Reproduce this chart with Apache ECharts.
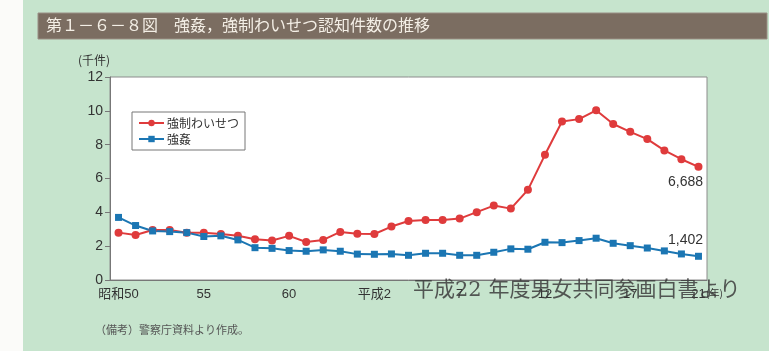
<!DOCTYPE html>
<html>
<head>
<meta charset="utf-8">
<script src="https://cdn.jsdelivr.net/npm/echarts@6/dist/echarts.min.js"></script>
<style>
html,body{margin:0;padding:0;background:#fff;}
#chart{width:769px;height:351px;}
</style>
</head>
<body>
<div id="chart"></div>
<script>
// categories: 昭和50 (1975) ... 平成21 (2009)
const categories = ['昭和50','昭和51','昭和52','昭和53','昭和54','昭和55','昭和56','昭和57','昭和58','昭和59',
  '昭和60','昭和61','昭和62','昭和63','平成元','平成2','平成3','平成4','平成5','平成6',
  '平成7','平成8','平成9','平成10','平成11','平成12','平成13','平成14','平成15','平成16',
  '平成17','平成18','平成19','平成20','平成21'];
const tickLabels = ['昭和50','','','','','55','','','','',
  '60','','','','','平成2','','','','',
  '7','','','','','12','','','','',
  '17','','','','21'];
// thousand cases
const indecentAssault = [2.80,2.66,2.96,2.96,2.80,2.80,2.72,2.62,2.41,2.33,
  2.61,2.25,2.37,2.84,2.74,2.72,3.16,3.49,3.55,3.55,
  3.63,4.01,4.40,4.22,5.33,7.40,9.37,9.51,10.03,9.22,
  8.76,8.33,7.66,7.14,6.688];
const rape = [3.70,3.22,2.90,2.86,2.80,2.57,2.61,2.37,1.91,1.87,
  1.74,1.70,1.78,1.70,1.53,1.52,1.54,1.46,1.58,1.58,
  1.46,1.46,1.64,1.84,1.82,2.23,2.21,2.33,2.47,2.17,
  2.03,1.89,1.72,1.54,1.402];
const seriesNames = ['強制わいせつ','強姦'];
const yTicks = {min:0, max:12, interval:2};
const lastLabels = ['6,688','1,402'];

const chart = echarts.init(document.getElementById('chart'), null, {renderer:'canvas'});
const n = categories.length;
const option = {
  backgroundColor: '#c6e4cd',
  animation: false,
  graphic: [
    {type:'rect', shape:{x:0,y:0,width:23,height:351}, style:{fill:'#fbfbf9'}, silent:true},
    {type:'rect', shape:{x:38,y:13,width:729,height:26}, style:{fill:'#7b6d61', stroke:'#9a8f85', lineWidth:1}, silent:true},
    {type:'text', left:46, top:17, style:{text:'第１－６－８図　強姦，強制わいせつ認知件数の推移', fill:'#f4efe6', font:'16px "Noto Sans CJK JP"'}},
    {type:'text', left:78, top:54, style:{text:'(千件)', fill:'#333', font:'12px "Noto Sans CJK JP"'}},
    {type:'text', left:706, top:288, style:{text:'(年)', fill:'#333', font:'10px "Noto Sans CJK JP"'}},
    {type:'text', left:95, top:324, style:{text:'（備考）警察庁資料より作成。', fill:'#555', font:'11px "Noto Sans CJK JP"'}},
    {type:'text', left:413, top:280, z:100, style:{text:'平成22 年度男女共同参画白書より', fill:'rgba(60,60,60,0.85)', font:'21px "DejaVu Serif", "Noto Sans CJK JP"'}}
  ],
  legend: {
    orient:'vertical', left:132, top:112,
    backgroundColor:'#fff', borderColor:'#777', borderWidth:1,
    padding:[5,6,5,6], itemGap:4, itemWidth:25, itemHeight:8,
    textStyle:{fontSize:12, color:'#333', fontFamily:'"Noto Sans CJK JP"', padding:[0,0,0,-2]},
    data: seriesNames
  },
  grid: {left:110, right:62, top:77, bottom:71, show:true, backgroundColor:'#fff', borderColor:'#8c8c8c', borderWidth:1},
  xAxis: {
    type:'category', data:categories, boundaryGap:true,
    axisLine:{lineStyle:{color:'#777', width:1}},
    axisTick:{inside:true, length:4, alignWithLabel:true, interval:0, lineStyle:{color:'#777'}},
    axisLabel:{interval:0, color:'#333', fontSize:13, margin:8,
      fontFamily:'"Liberation Sans", "Noto Sans CJK JP"',
      formatter:(v, i) => tickLabels[i]}
  },
  yAxis: {
    type:'value', min:yTicks.min, max:yTicks.max, interval:yTicks.interval,
    splitLine:{show:false},
    axisLine:{show:true, lineStyle:{color:'#777'}},
    axisTick:{show:true, length:5, lineStyle:{color:'#777'}},
    axisLabel:{color:'#333', fontSize:14, margin:7, fontFamily:'"Liberation Sans", Arial'}
  },
  series: [
    {
      name: seriesNames[0], type:'line', data: indecentAssault.map((v,i)=> i===n-1 ? {value:v, label:{show:true, formatter:lastLabels[0], position:'bottom', offset:[-13,0], distance:4, fontSize:14, color:'#333', fontFamily:'"Liberation Sans", Arial'}} : v),
      symbol:'circle', symbolSize:8,
      lineStyle:{color:'#df3b3c', width:2}, itemStyle:{color:'#df3b3c'}
    },
    {
      name: seriesNames[1], type:'line', data: rape.map((v,i)=> i===n-1 ? {value:v, label:{show:true, formatter:lastLabels[1], position:'top', offset:[-13,0], distance:6, fontSize:14, color:'#333', fontFamily:'"Liberation Sans", Arial'}} : v),
      symbol:'rect', symbolSize:7,
      lineStyle:{color:'#1b76b3', width:2}, itemStyle:{color:'#1b76b3'}
    }
  ]
};
chart.setOption(option);
</script>
</body>
</html>
